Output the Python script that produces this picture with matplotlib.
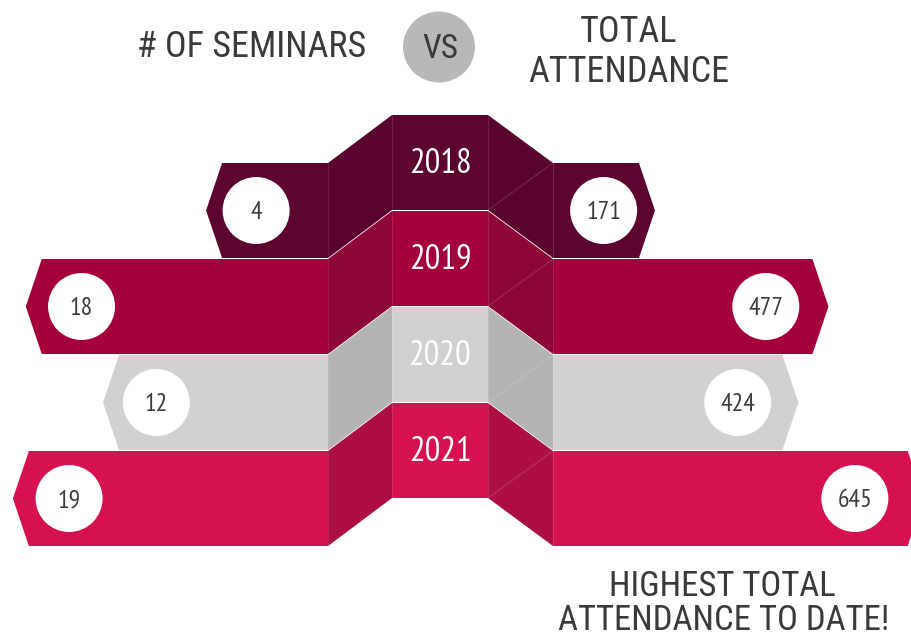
import matplotlib
matplotlib.use("Agg")
import matplotlib.pyplot as plt
from matplotlib.patches import Polygon, Circle, Ellipse
from matplotlib import font_manager as fm

years = ["2018", "2019", "2020", "2021"]
seminars = [4, 18, 12, 19]
attendance = [171, 477, 424, 645]
main_colors = ["#5c0330", "#a3003c", "#d3d0d1", "#d51150"]
fold_colors = ["#5a032f", "#8e0637", "#b4b4b4", "#ad0e44"]

fams = set(f.name for f in fm.fontManager.ttflist)


def pick(cands):
    for c in cands:
        if c in fams:
            return c
    return "DejaVu Sans"

head_font = pick(["Roboto Condensed", "Liberation Sans Narrow", "DejaVu Sans"])
num_font = pick(["PT Sans Narrow", "Roboto Condensed", "Liberation Sans Narrow", "DejaVu Sans"])

fig = plt.figure(figsize=(9.12, 6.38), dpi=100)
ax = fig.add_axes([0, 0, 1, 1])
ax.set_xlim(0, 912)
ax.set_ylim(638, 0)
ax.axis("off")

# layout (pixels)
CL, CR = 392, 488          # center column
FL, FR = 328, 553          # fold outer edges
ROW0, STEP, H, OFF = 115, 96, 95, 48
TIP = 16


def left_scale(v):        # bar length for # of seminars
    return 54.4 + 12.88 * v


def left_circle(v):       # circle distance from the fold for # of seminars
    return 22 + 12.47 * v


def right_scale(v):       # bar length for attendance
    return -11 + 0.567 * v


def right_circle(v):      # circle distance from the fold for attendance
    return -40 + 0.53 * v


for i, (yr, s, a, mc, fc) in enumerate(zip(years, seminars, attendance, main_colors, fold_colors)):
    ct = ROW0 + STEP * i
    cb = ct + H
    st = ct + OFF
    sb = st + H
    sm = (st + sb) / 2
    z = 2 + i
    # left bar
    lc = FL - left_scale(s)
    ax.add_patch(Polygon([(FL, st), (lc, st), (lc - TIP, sm), (lc, sb), (FL, sb)], closed=True,
                         facecolor=mc, edgecolor="none", zorder=z))
    # right bar
    rc = FR + right_scale(a)
    ax.add_patch(Polygon([(FR, st), (rc, st), (rc + TIP, sm), (rc, sb), (FR, sb)], closed=True,
                         facecolor=mc, edgecolor="none", zorder=z))
    # left fold
    ax.add_patch(Polygon([(FL, st), (CL, ct), (CL, cb), (FL, sb)], closed=True,
                         facecolor=fc, edgecolor="none", zorder=z))
    # right fold
    ax.add_patch(Polygon([(CR, ct), (FR, st), (FR, sb), (CR, cb)], closed=True,
                         facecolor=fc, edgecolor="none", zorder=z))
    ax.plot([CR, FR], [cb, st], color="white", alpha=0.15, lw=0.8, zorder=z)
    ax.plot([FR, FR], [st, sb], color="white", alpha=0.15, lw=0.8, zorder=z)
    ax.plot([FL, FL], [st, sb], color="white", alpha=0.10, lw=0.8, zorder=z)
    # center box
    ax.add_patch(Polygon([(CL, ct), (CR, ct), (CR, cb), (CL, cb)], closed=True,
                         facecolor=mc, edgecolor="none", zorder=z))
    ax.plot([CL, CL], [ct, cb], color="white", alpha=0.12, lw=0.8, zorder=z)
    ax.plot([CR, CR], [ct, cb], color="white", alpha=0.12, lw=0.8, zorder=z)
    ax.text((CL + CR) / 2, (ct + cb) / 2 + 10.5, yr, color="white", fontsize=25,
            family=num_font, ha="center", va="baseline", zorder=10)
    # circles with values
    lx = FL - left_circle(s)
    rx = FR + right_circle(a)
    ax.add_patch(Circle((lx, sm), 33.5, facecolor="white", edgecolor="none", zorder=8))
    ax.add_patch(Circle((rx, sm), 33.5, facecolor="white", edgecolor="none", zorder=8))
    ax.text(lx, sm + 8.5, str(s), fontsize=18.5, color="#3c3c3c", family=num_font,
            ha="center", va="baseline", zorder=9)
    ax.text(rx, sm + 8.5, str(a), fontsize=18.5, color="#3c3c3c", family=num_font,
            ha="center", va="baseline", zorder=9)

# header
tc = "#3a3a3a"
ax.text(252, 57, "# OF SEMINARS", fontsize=26, color=tc, family=head_font,
        ha="center", va="baseline")
ax.add_patch(Ellipse((439, 47), 72, 71, facecolor="#b8b8b8", edgecolor="none"))
ax.text(440, 58, "VS", fontsize=24, color=tc, family=head_font, ha="center", va="baseline")
ax.text(629, 42, "TOTAL", fontsize=26, color=tc, family=head_font,
        ha="center", va="baseline")
ax.text(629, 82, "ATTENDANCE", fontsize=26, color=tc, family=head_font,
        ha="center", va="baseline")
ax.text(722, 596, "HIGHEST TOTAL", fontsize=25, color=tc,
        family=head_font, ha="center", va="baseline")
ax.text(724, 630, "ATTENDANCE TO DATE!", fontsize=25, color=tc,
        family=head_font, ha="center", va="baseline")

fig.savefig("out.png", dpi=100)
